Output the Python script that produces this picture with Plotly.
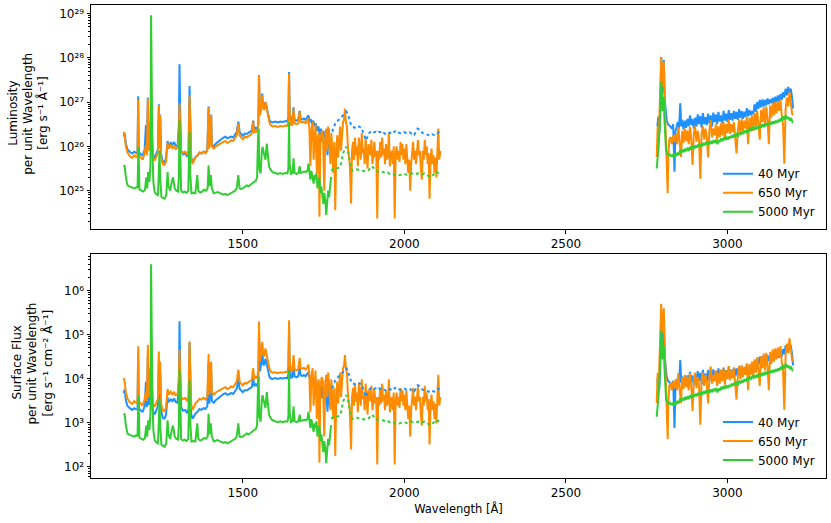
import numpy as np
import plotly.graph_objects as go

# Spectra, stored as (wavelength [A], log10 luminosity [erg/s/A]).
# FUV segment, solid lines
spec_40_fuv = [
    (1131, 26.22), (1134, 26.30), (1138, 26.06), (1143, 25.93), (1150, 25.88), (1157, 25.84),
    (1164, 25.88), (1170, 25.85), (1174, 25.86), (1176, 27.13), (1178, 25.88), (1184, 25.82),
    (1190, 25.80), (1196, 25.92), (1200, 26.48), (1203, 25.90), (1206, 27.10), (1209, 25.95),
    (1212, 26.50), (1215, 26.25), (1218, 26.40), (1221, 25.82), (1227, 25.74), (1233, 25.84),
    (1237, 25.92), (1240, 26.95), (1242, 26.00), (1244, 26.72), (1247, 25.82), (1252, 25.66),
    (1257, 25.64), (1262, 25.72), (1267, 26.12), (1271, 26.02), (1277, 26.08), (1282, 26.04),
    (1287, 26.10), (1292, 26.02), (1298, 26.00), (1302, 26.50), (1304, 27.85), (1306, 26.80),
    (1309, 25.90), (1315, 25.82), (1321, 25.84), (1327, 25.78), (1332, 25.86), (1335, 27.36),
    (1337, 26.50), (1340, 25.76), (1344, 25.64), (1349, 25.72), (1354, 25.76), (1360, 25.80),
    (1366, 25.86), (1372, 25.84), (1378, 25.88), (1384, 25.86), (1390, 25.92), (1394, 26.90),
    (1396, 25.98), (1399, 26.22), (1402, 26.72), (1404, 26.04), (1410, 26.00), (1416, 26.06),
    (1422, 26.10), (1428, 26.14), (1434, 26.18), (1440, 26.20), (1446, 26.22), (1452, 26.18),
    (1458, 26.20), (1464, 26.22), (1470, 26.20), (1476, 26.28), (1481, 26.32), (1486, 26.56),
    (1490, 26.32), (1495, 26.28), (1500, 26.24), (1506, 26.29), (1512, 26.28), (1518, 26.31),
    (1524, 26.33), (1528, 26.36), (1532, 26.58), (1535, 26.38), (1540, 26.42), (1545, 26.38),
    (1548, 26.52), (1550, 27.58), (1553, 26.72), (1557, 26.90), (1560, 27.19), (1563, 26.88),
    (1566, 26.85), (1570, 27.00), (1574, 26.88), (1578, 26.70), (1582, 26.60), (1586, 26.55),
    (1592, 26.54), (1600, 26.56), (1608, 26.54), (1616, 26.56), (1624, 26.55), (1632, 26.57),
    (1638, 26.56), (1641, 26.65), (1643, 27.68), (1645, 26.75), (1649, 26.57), (1653, 26.58),
    (1657, 26.88), (1660, 26.60), (1666, 26.58), (1671, 26.60), (1676, 26.80), (1679, 26.62),
    (1684, 26.61), (1689, 26.63), (1694, 26.60), (1698, 26.64), (1703, 26.70), (1707, 26.55),
    (1710, 26.62), (1714, 26.50), (1718, 26.58), (1722, 26.45), (1726, 26.52), (1730, 26.35),
    (1734, 26.45), (1738, 26.25), (1742, 26.40), (1746, 26.10), (1750, 26.35), (1754, 26.00),
    (1758, 26.30), (1762, 25.80), (1766, 26.40), (1770, 25.90), (1774, 26.20),
]

spec_650_fuv = [
    (1131, 26.33), (1134, 26.25), (1138, 26.00), (1143, 25.86), (1150, 25.78), (1157, 25.74),
    (1164, 25.80), (1170, 25.76), (1174, 25.78), (1176, 27.05), (1178, 25.80), (1184, 25.74),
    (1190, 25.70), (1196, 25.85), (1200, 26.03), (1203, 25.80), (1206, 27.08), (1209, 25.90),
    (1212, 26.55), (1215, 26.20), (1218, 26.45), (1221, 25.75), (1227, 25.68), (1233, 25.78),
    (1237, 25.85), (1240, 26.93), (1242, 25.95), (1244, 26.70), (1247, 25.75), (1252, 25.60),
    (1257, 25.58), (1262, 25.65), (1267, 26.08), (1271, 25.95), (1277, 26.02), (1282, 25.96),
    (1287, 26.00), (1292, 25.94), (1298, 25.96), (1302, 26.30), (1304, 26.97), (1306, 26.40),
    (1309, 25.90), (1315, 25.85), (1321, 25.88), (1327, 25.82), (1332, 25.90), (1335, 27.16),
    (1337, 26.40), (1340, 25.75), (1344, 25.60), (1349, 25.70), (1354, 25.76), (1360, 25.80),
    (1366, 25.86), (1372, 25.84), (1378, 25.88), (1384, 25.84), (1390, 25.90), (1394, 26.87),
    (1396, 25.95), (1399, 26.20), (1402, 26.70), (1404, 26.00), (1410, 25.95), (1416, 26.00),
    (1422, 26.03), (1428, 26.06), (1434, 26.08), (1440, 26.10), (1446, 26.12), (1452, 26.08),
    (1458, 26.10), (1464, 26.14), (1470, 26.12), (1476, 26.20), (1481, 26.25), (1486, 26.52),
    (1490, 26.25), (1495, 26.20), (1500, 26.16), (1506, 26.22), (1512, 26.20), (1518, 26.24),
    (1524, 26.26), (1528, 26.30), (1532, 26.55), (1535, 26.30), (1540, 26.36), (1545, 26.32),
    (1548, 26.50), (1550, 27.61), (1553, 26.70), (1557, 26.89), (1560, 27.15), (1563, 26.85),
    (1566, 26.82), (1570, 27.00), (1574, 26.85), (1578, 26.65), (1582, 26.55), (1586, 26.48),
    (1592, 26.45), (1600, 26.46), (1608, 26.44), (1616, 26.46), (1624, 26.45), (1632, 26.47),
    (1638, 26.46), (1641, 26.60), (1643, 27.64), (1645, 26.70), (1649, 26.47), (1653, 26.50),
    (1657, 26.85), (1660, 26.52), (1666, 26.50), (1671, 26.52), (1676, 26.78), (1679, 26.55),
    (1684, 26.54), (1689, 26.56), (1694, 26.52), (1698, 26.55), (1703, 26.63), (1706, 26.40),
    (1709, 25.55), (1712, 26.35), (1716, 26.55), (1719, 25.70), (1722, 26.30), (1725, 26.50),
    (1729, 25.40), (1732, 26.20), (1735, 26.30), (1737, 24.41), (1740, 26.10), (1744, 26.35),
    (1748, 26.25), (1752, 25.00), (1755, 26.20), (1758, 26.40), (1761, 25.90), (1764, 26.45),
    (1768, 26.10), (1771, 25.60), (1774, 26.30), (1777, 25.80), (1780, 25.40), (1783, 26.10),
    (1786, 24.56), (1789, 25.80), (1792, 26.25), (1795, 25.75), (1798, 26.10), (1801, 26.45),
    (1804, 25.90), (1807, 26.30), (1810, 26.55), (1813, 26.60), (1816, 26.85), (1819, 26.55),
    (1822, 26.45), (1825, 26.00), (1828, 25.80), (1831, 25.60), (1835, 24.71), (1838, 25.90),
    (1841, 26.10), (1844, 25.70), (1847, 26.20), (1850, 25.80), (1853, 26.00), (1856, 25.55),
    (1859, 26.20), (1862, 25.90), (1865, 25.70), (1868, 26.30), (1871, 25.85), (1874, 25.95),
    (1877, 25.60), (1880, 26.20), (1883, 25.70), (1886, 25.50), (1889, 26.05), (1892, 25.85),
    (1895, 25.80), (1898, 26.15), (1901, 25.60), (1904, 25.80), (1907, 26.10), (1910, 25.75),
    (1913, 25.90), (1916, 24.37), (1919, 25.90), (1922, 25.70), (1925, 26.10), (1928, 25.75),
    (1931, 26.20), (1934, 25.80), (1937, 25.95), (1940, 25.60), (1943, 26.05), (1946, 25.70),
    (1949, 25.80), (1952, 26.30), (1955, 25.55), (1958, 25.80), (1961, 25.90), (1964, 25.60),
    (1967, 26.00), (1970, 24.37), (1973, 25.80), (1976, 26.00), (1979, 25.70), (1982, 25.90),
    (1985, 25.65), (1988, 26.10), (1991, 25.80), (1994, 26.05), (1997, 25.70), (2000, 25.95),
    (2003, 25.60), (2006, 26.05), (2009, 25.75), (2012, 25.40), (2015, 25.70), (2018, 25.00),
    (2021, 25.60), (2024, 25.95), (2027, 26.10), (2030, 25.70), (2033, 25.90), (2036, 25.60),
    (2039, 26.00), (2042, 26.14), (2045, 25.80), (2048, 25.90), (2051, 25.50), (2054, 25.25),
    (2057, 25.90), (2060, 25.70), (2063, 26.15), (2066, 25.80), (2069, 26.00), (2072, 25.60),
    (2075, 25.85), (2078, 24.82), (2081, 25.70), (2084, 25.95), (2087, 25.60), (2090, 25.80),
    (2093, 25.40), (2096, 25.75), (2099, 25.30), (2102, 25.85), (2105, 26.40), (2108, 25.70),
    (2111, 25.90),
]

spec_5000_fuv = [
    (1131, 25.54), (1134, 25.57), (1138, 25.30), (1143, 25.12), (1150, 25.09), (1157, 25.07),
    (1164, 25.05), (1170, 25.08), (1174, 25.06), (1177, 25.99), (1180, 25.03), (1186, 25.00),
    (1192, 24.98), (1197, 25.02), (1201, 25.30), (1204, 25.05), (1207, 25.42), (1211, 25.20),
    (1214, 25.60), (1216, 28.96), (1218, 26.50), (1220, 25.95), (1223, 25.20), (1227, 24.97),
    (1232, 24.92), (1237, 24.90), (1240, 25.40), (1242, 25.91), (1244, 25.30), (1248, 24.86),
    (1253, 24.84), (1258, 24.82), (1263, 24.90), (1267, 25.42), (1270, 25.10), (1275, 25.00),
    (1280, 25.20), (1284, 25.30), (1289, 25.05), (1294, 25.00), (1299, 24.98), (1302, 25.30),
    (1304, 26.59), (1306, 25.80), (1309, 25.00), (1314, 24.96), (1320, 24.98), (1326, 24.95),
    (1331, 25.00), (1335, 26.33), (1337, 25.40), (1341, 24.94), (1347, 24.95), (1353, 24.94),
    (1359, 25.35), (1362, 25.00), (1368, 24.96), (1374, 24.98), (1380, 25.02), (1386, 25.00),
    (1391, 25.05), (1394, 25.57), (1397, 25.10), (1401, 25.35), (1404, 25.05), (1410, 24.94),
    (1416, 24.95), (1422, 24.97), (1428, 24.95), (1434, 24.93), (1440, 24.91), (1446, 24.93),
    (1452, 24.90), (1458, 24.92), (1464, 24.95), (1470, 24.98), (1476, 25.00), (1481, 25.05),
    (1486, 25.35), (1490, 25.05), (1495, 25.04), (1500, 25.05), (1506, 25.08), (1512, 25.12),
    (1518, 25.10), (1524, 25.14), (1530, 25.16), (1535, 25.20), (1540, 25.22), (1544, 25.30),
    (1547, 26.20), (1549, 26.40), (1551, 25.50), (1555, 25.39), (1559, 25.90), (1561, 25.99),
    (1565, 25.85), (1570, 25.70), (1574, 26.06), (1577, 25.80), (1581, 25.55), (1585, 25.48),
    (1592, 25.42), (1600, 25.40), (1608, 25.38), (1616, 25.40), (1624, 25.38), (1632, 25.40),
    (1638, 25.39), (1641, 25.50), (1643, 26.55), (1645, 25.60), (1649, 25.38), (1654, 25.40),
    (1657, 25.73), (1660, 25.40), (1666, 25.38), (1672, 25.40), (1676, 25.55), (1679, 25.40),
    (1684, 25.42), (1690, 25.43), (1695, 25.42), (1700, 25.45), (1703, 25.61), (1706, 25.38),
    (1709, 25.25), (1712, 25.45), (1716, 25.30), (1719, 25.16), (1722, 25.35), (1725, 25.25),
    (1728, 25.40), (1731, 25.05), (1734, 25.20), (1737, 25.30), (1740, 24.95), (1743, 25.10),
    (1746, 24.90), (1749, 24.70), (1752, 24.95), (1755, 24.80), (1758, 24.45), (1761, 24.75),
    (1764, 25.00), (1767, 24.85), (1770, 25.15), (1773, 25.31),
]

# FUV segment past the observed range, dotted lines
spec_40_fill = [
    (1776, 26.33), (1781, 26.40), (1786, 26.52), (1791, 26.56), (1796, 26.58), (1801, 26.62),
    (1806, 26.66), (1811, 26.70), (1816, 26.74), (1821, 26.78), (1826, 26.70), (1831, 26.55),
    (1836, 26.46), (1841, 26.44), (1846, 26.42), (1851, 26.45), (1856, 26.46), (1861, 26.44),
    (1866, 26.43), (1871, 26.34), (1876, 26.25), (1881, 26.14), (1886, 26.22), (1891, 26.30),
    (1896, 26.33), (1901, 26.35), (1906, 26.32), (1911, 26.33), (1916, 26.30), (1921, 26.33),
    (1926, 26.32), (1931, 26.28), (1936, 26.30), (1941, 26.29), (1946, 26.27), (1951, 26.30),
    (1956, 26.31), (1961, 26.28), (1966, 26.32), (1971, 26.34), (1976, 26.30), (1981, 26.31),
    (1986, 26.30), (1991, 26.29), (1996, 26.31), (2001, 26.32), (2006, 26.30), (2011, 26.31),
    (2016, 26.32), (2021, 26.29), (2026, 26.31), (2031, 26.27), (2036, 26.33), (2041, 26.40),
    (2046, 26.38), (2051, 26.34), (2056, 26.30), (2061, 26.29), (2066, 26.28), (2071, 26.26),
    (2076, 26.25), (2081, 26.24), (2086, 26.27), (2091, 26.26), (2096, 26.25), (2101, 26.28),
    (2106, 26.32), (2111, 26.40),
]

spec_5000_fill = [
    (1774, 25.45), (1780, 25.50), (1786, 25.49), (1792, 25.51), (1798, 25.52), (1804, 25.60),
    (1810, 25.84), (1815, 25.92), (1820, 25.99), (1825, 25.90), (1830, 25.70), (1835, 25.50),
    (1840, 25.45), (1846, 25.47), (1852, 25.48), (1858, 25.47), (1864, 25.46), (1870, 25.45),
    (1876, 25.44), (1882, 25.45), (1888, 25.46), (1894, 25.50), (1900, 25.55), (1906, 25.50),
    (1912, 25.45), (1918, 25.43), (1924, 25.42), (1930, 25.43), (1936, 25.42), (1942, 25.40),
    (1948, 25.41), (1954, 25.38), (1960, 25.39), (1966, 25.37), (1972, 25.35), (1978, 25.36),
    (1984, 25.35), (1990, 25.36), (1996, 25.35), (2002, 25.37), (2008, 25.36), (2014, 25.38),
    (2020, 25.39), (2026, 25.38), (2032, 25.37), (2038, 25.38), (2044, 25.39), (2050, 25.38),
    (2056, 25.37), (2062, 25.39), (2068, 25.36), (2074, 25.33), (2080, 25.31), (2086, 25.33),
    (2092, 25.38), (2098, 25.43), (2104, 25.40), (2110, 25.42),
]

# NUV segment, solid lines
spec_40_nuv = [
    (2783, 26.45), (2786, 26.67), (2789, 26.30), (2792, 26.80), (2795, 28.01), (2798, 27.20),
    (2801, 27.40), (2803, 27.95), (2806, 27.04), (2809, 26.70), (2812, 26.59), (2816, 26.50),
    (2820, 26.48), (2824, 26.44), (2828, 26.40), (2832, 26.50), (2836, 25.43), (2839, 26.35),
    (2842, 26.42), (2846, 26.55), (2850, 26.40), (2854, 26.97), (2857, 26.45), (2860, 26.60),
    (2864, 26.38), (2868, 26.58), (2872, 26.42), (2876, 26.62), (2880, 26.45), (2884, 26.70),
    (2888, 26.48), (2892, 26.62), (2896, 26.40), (2900, 26.65), (2904, 26.45), (2908, 26.72),
    (2912, 26.50), (2916, 26.68), (2920, 26.42), (2924, 26.75), (2928, 26.50), (2932, 26.66),
    (2936, 26.48), (2940, 26.74), (2944, 26.52), (2948, 26.70), (2952, 26.45), (2956, 26.76),
    (2960, 26.55), (2964, 26.72), (2968, 26.50), (2972, 26.78), (2976, 26.56), (2980, 26.70),
    (2984, 26.52), (2988, 26.80), (2992, 26.58), (2996, 26.74), (3000, 26.55), (3004, 26.82),
    (3008, 26.60), (3012, 26.75), (3016, 26.58), (3020, 26.80), (3024, 26.62), (3028, 26.78),
    (3032, 26.60), (3036, 26.84), (3040, 26.64), (3044, 26.80), (3048, 26.62), (3052, 26.78),
    (3056, 26.66), (3060, 26.86), (3064, 26.68), (3068, 26.82), (3072, 26.70), (3076, 26.80),
    (3080, 26.72), (3084, 26.95), (3088, 26.78), (3092, 27.00), (3096, 26.85), (3100, 27.05),
    (3104, 26.88), (3108, 27.06), (3112, 26.90), (3116, 27.05), (3120, 26.92), (3124, 27.08),
    (3128, 26.95), (3132, 27.06), (3136, 26.98), (3140, 27.10), (3144, 26.96), (3148, 27.12),
    (3152, 27.00), (3156, 27.15), (3160, 27.02), (3164, 27.18), (3168, 27.05), (3172, 27.22),
    (3176, 27.10), (3180, 27.30), (3184, 27.15), (3188, 27.34), (3192, 27.20), (3196, 27.30),
    (3200, 27.10), (3203, 26.85),
]

spec_650_nuv = [
    (2781, 25.76), (2784, 26.44), (2787, 26.10), (2790, 26.70), (2793, 27.50), (2795, 28.01),
    (2797, 27.60), (2799, 27.34), (2801, 27.60), (2803, 27.91), (2805, 27.20), (2807, 26.82),
    (2810, 26.06), (2813, 25.60), (2815, 24.94), (2817, 25.80), (2820, 26.15), (2824, 26.21),
    (2828, 26.05), (2832, 26.25), (2836, 26.10), (2840, 26.30), (2844, 26.05), (2848, 26.44),
    (2852, 26.15), (2856, 25.76), (2860, 26.35), (2864, 26.08), (2868, 26.40), (2872, 26.12),
    (2876, 26.36), (2880, 26.05), (2884, 26.44), (2888, 26.15), (2892, 25.58), (2896, 26.30),
    (2900, 26.45), (2904, 26.10), (2908, 26.35), (2912, 26.15), (2916, 25.27), (2920, 26.30),
    (2924, 26.45), (2928, 26.15), (2932, 26.40), (2936, 26.20), (2940, 25.75), (2944, 26.35),
    (2948, 26.59), (2952, 26.20), (2956, 26.40), (2960, 26.25), (2964, 26.50), (2968, 26.15),
    (2972, 26.45), (2976, 26.20), (2980, 26.52), (2984, 26.25), (2988, 26.55), (2992, 26.18),
    (2996, 26.50), (3000, 26.30), (3004, 26.60), (3008, 26.28), (3012, 26.50), (3016, 26.32),
    (3020, 26.55), (3024, 26.05), (3028, 25.84), (3032, 26.35), (3036, 26.60), (3040, 26.30),
    (3044, 26.62), (3048, 26.35), (3052, 26.58), (3056, 26.40), (3060, 26.66), (3064, 26.05),
    (3068, 26.65), (3072, 26.40), (3076, 26.70), (3080, 26.35), (3084, 26.75), (3088, 26.45),
    (3092, 26.80), (3096, 26.50), (3100, 26.15), (3104, 26.82), (3108, 26.55), (3112, 26.88),
    (3116, 26.50), (3120, 26.90), (3124, 26.60), (3128, 26.05), (3132, 26.92), (3136, 26.65),
    (3140, 26.98), (3144, 26.70), (3148, 27.00), (3152, 26.75), (3156, 27.02), (3160, 26.80),
    (3164, 27.05), (3168, 26.70), (3172, 26.50), (3176, 25.61), (3180, 26.85), (3184, 27.10),
    (3188, 26.90), (3192, 27.23), (3196, 26.95), (3200, 26.74), (3203, 26.70),
]

spec_5000_nuv = [
    (2781, 25.50), (2784, 25.70), (2787, 26.00), (2790, 26.40), (2793, 27.00), (2795, 27.46),
    (2797, 27.20), (2799, 26.80), (2801, 27.00), (2803, 27.12), (2805, 26.60), (2807, 26.20),
    (2810, 25.90), (2813, 25.84), (2817, 25.80), (2821, 25.82), (2825, 25.78), (2829, 25.80),
    (2833, 25.76), (2837, 25.82), (2841, 25.78), (2845, 25.86), (2849, 25.80), (2853, 25.91),
    (2857, 25.85), (2861, 25.93), (2865, 25.87), (2869, 25.95), (2873, 25.89), (2877, 25.97),
    (2881, 25.90), (2885, 25.99), (2889, 25.93), (2893, 26.00), (2897, 25.95), (2901, 26.02),
    (2905, 25.97), (2909, 26.04), (2913, 25.99), (2917, 26.06), (2921, 26.00), (2925, 26.06),
    (2929, 26.02), (2933, 26.10), (2937, 26.04), (2941, 26.10), (2945, 26.05), (2949, 26.12),
    (2953, 26.06), (2957, 26.14), (2961, 26.08), (2965, 26.15), (2969, 26.05), (2973, 26.14),
    (2977, 26.10), (2981, 26.18), (2985, 26.12), (2989, 26.20), (2993, 26.14), (2997, 26.22),
    (3001, 26.15), (3005, 26.22), (3009, 26.18), (3013, 26.25), (3017, 26.20), (3021, 26.27),
    (3025, 26.22), (3029, 26.28), (3033, 26.24), (3037, 26.30), (3041, 26.26), (3045, 26.33),
    (3049, 26.28), (3053, 26.36), (3057, 26.30), (3061, 26.38), (3065, 26.34), (3069, 26.40),
    (3073, 26.36), (3077, 26.42), (3081, 26.38), (3085, 26.44), (3089, 26.38), (3093, 26.46),
    (3097, 26.40), (3101, 26.48), (3105, 26.42), (3109, 26.50), (3113, 26.44), (3117, 26.52),
    (3121, 26.46), (3125, 26.53), (3129, 26.48), (3133, 26.55), (3137, 26.50), (3141, 26.56),
    (3145, 26.51), (3149, 26.58), (3153, 26.53), (3157, 26.60), (3161, 26.55), (3165, 26.63),
    (3169, 26.57), (3173, 26.68), (3177, 26.60), (3181, 26.70), (3185, 26.62), (3189, 26.66),
    (3193, 26.58), (3197, 26.64), (3201, 26.55), (3203, 26.56),
]

ages = ["40 Myr", "650 Myr", "5000 Myr"]
colors = ["#1E90FF", "#FF8C00", "#32CD32"]
# stellar radius at each age [R_sun], used to turn luminosity into surface flux
radius_rsun = [0.76, 0.58, 0.615]
R_SUN_CM = 6.957e10

# tick marks and labels
wave_ticks = [1500, 2000, 2500, 3000]
lum_ticks = [1e25, 1e26, 1e27, 1e28, 1e29]
lum_ticktext = ["10²⁵", "10²⁶", "10²⁷", "10²⁸", "10²⁹"]
flux_ticks = [1e2, 1e3, 1e4, 1e5, 1e6]
flux_ticktext = ["10²", "10³", "10⁴", "10⁵", "10⁶"]

lum_label = ["Luminosity", "per unit Wavelength", "[erg s⁻¹ Å⁻¹]"]
flux_label = ["Surface Flux", "per unit Wavelength", "[erg s⁻¹ cm⁻² Å⁻¹]"]

solid = [
    [spec_40_fuv, spec_40_nuv],
    [spec_650_fuv, spec_650_nuv],
    [spec_5000_fuv, spec_5000_nuv],
]
dotted = [[spec_40_fill], [], [spec_5000_fill]]


def unpack(segments):
    # join segments with a None gap so each age is one trace
    wl, lum = [], []
    for seg in segments:
        wl += [p[0] for p in seg] + [None]
        lum += [10.0 ** p[1] for p in seg] + [None]
    return wl, np.array(lum, dtype=float)


def minor_positions(decades):
    # 2..9 x 10^n, like matplotlib's log minor locator
    return [m * 10.0 ** e for e in decades for m in range(2, 10)]


fig = go.Figure()

for i, age in enumerate(ages):
    area = 4 * np.pi * (radius_rsun[i] * R_SUN_CM) ** 2
    wl, lum = unpack(solid[i])
    for row, scale, leg in [(1, 1.0, "legend"), (2, 1.0 / area, "legend2")]:
        fig.add_trace(go.Scatter(
            x=wl, y=lum * scale, mode="lines", name=age,
            line=dict(color=colors[i], width=2),
            xaxis="x" if row == 1 else "x2", yaxis="y" if row == 1 else "y2",
            legend=leg, connectgaps=False, hoverinfo="skip",
        ))

for i, age in enumerate(ages):
    if not dotted[i]:
        continue
    area = 4 * np.pi * (radius_rsun[i] * R_SUN_CM) ** 2
    wl, lum = unpack(dotted[i])
    for row, scale in [(1, 1.0), (2, 1.0 / area)]:
        fig.add_trace(go.Scatter(
            x=wl, y=lum * scale, mode="lines", showlegend=False,
            line=dict(color=colors[i], width=2, dash="dot"),
            xaxis="x" if row == 1 else "x2", yaxis="y" if row == 1 else "y2",
            hoverinfo="skip",
        ))

tick_font = dict(family="DejaVu Sans", size=12, color="black")
axis_style = dict(
    showline=True, linecolor="black", linewidth=1, mirror=True,
    ticks="outside", ticklen=3.5, tickcolor="black", showgrid=False, zeroline=False,
    tickfont=tick_font,
)
label_font = dict(family="DejaVu Sans", size=12, color="black")
legend_font = dict(family="DejaVu Sans", size=12, color="black")


def minor(decades):
    return dict(ticks="outside", ticklen=2, tickcolor="black", showgrid=False,
                tickmode="array", tickvals=minor_positions(decades))


# y labels: one annotation per line, rotated, placed left of the tick labels
annotations = []
for lines, xs, yc in [(lum_label, [-0.1061, -0.0857, -0.0653], 0.77),
                      (flux_label, [-0.1000, -0.0796, -0.0592], 0.243)]:
    for text, x in zip(lines, xs):
        annotations.append(dict(
            text=text, xref="paper", yref="paper", x=x, y=yc, textangle=-90,
            showarrow=False, xanchor="center", yanchor="middle", font=label_font,
        ))

fig.update_layout(
    width=831, height=523,
    margin=dict(l=91, r=5, t=5, b=45),
    paper_bgcolor="white", plot_bgcolor="white",
    font=dict(family="DejaVu Sans", size=12, color="black"),
    xaxis=dict(domain=[0, 1], range=[1030, 3305], tickvals=wave_ticks,
               anchor="y", **axis_style),
    xaxis2=dict(domain=[0, 1], range=[1030, 3305], tickvals=wave_ticks,
                anchor="y2", **axis_style,
                title=dict(text="Wavelength [Å]", standoff=6,
                           font=dict(family="DejaVu Sans", size=11.5, color="black"))),
    yaxis=dict(type="log", domain=[0.5264, 1], range=[24.135, 29.19],
               tickvals=lum_ticks, ticktext=lum_ticktext, anchor="x",
               minor=minor(range(24, 29)), **axis_style),
    yaxis2=dict(type="log", domain=[0, 0.4736], range=[1.75, 6.83],
                tickvals=flux_ticks, ticktext=flux_ticktext, anchor="x2",
                minor=minor(range(1, 7)), **axis_style),
    legend=dict(x=0.853, y=0.674, xanchor="left", yanchor="top",
                bgcolor="rgba(0,0,0,0)", font=legend_font),
    legend2=dict(x=0.853, y=0.149, xanchor="left", yanchor="top",
                 bgcolor="rgba(0,0,0,0)", font=legend_font),
    annotations=annotations,
)

# drop the default page margin so the figure sits at the window origin
fig.write_html(
    "out.html",
    config={"displayModeBar": False},
    post_script="document.body.style.margin = '0px';",
)
